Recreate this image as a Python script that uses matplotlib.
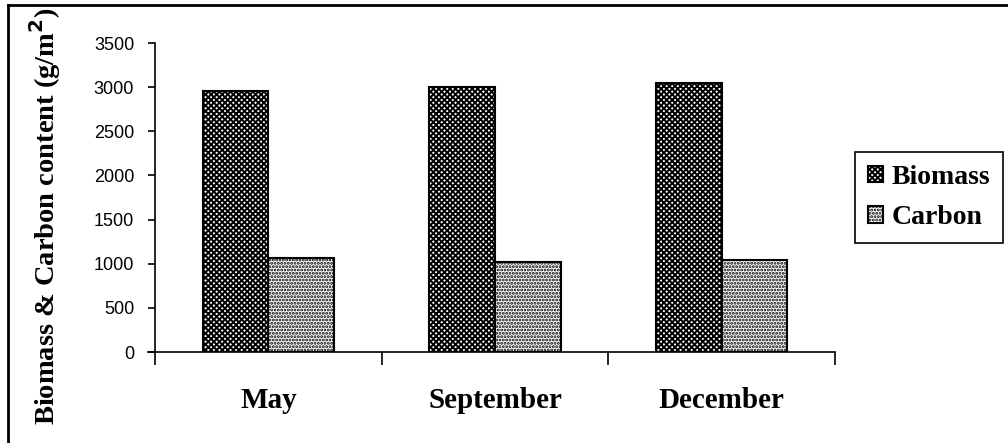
import numpy as np
import matplotlib.pyplot as plt
from matplotlib.lines import Line2D

months = ['May', 'September', 'December']
biomass = [2960, 3000, 3050]
carbon = [1065, 1020, 1040]
yticks = [0, 500, 1000, 1500, 2000, 2500, 3000, 3500]

plt.rcParams['hatch.linewidth'] = 1.4
serif = ['Liberation Serif', 'DejaVu Serif']
sans = ['Liberation Sans', 'DejaVu Sans']

fig = plt.figure(figsize=(10.08, 4.43), dpi=100)
ax = fig.add_axes([0.1538, 0.2054, 0.6746, 0.6975])

x = np.arange(len(months))
w = 0.29
ax.bar(x - w / 2, biomass, w, facecolor='white', edgecolor='black',
       hatch='xxxxxx', linewidth=1.5, label='Biomass')
ax.bar(x + w / 2, carbon, w, facecolor='white', edgecolor='black',
       hatch='.....', linewidth=1.5, label='Carbon')

ax.set_xlim(-0.5, 2.5)
ax.set_ylim(0, 3500)
ax.set_yticks(yticks)
ax.set_yticklabels([str(t) for t in yticks], family=sans, fontsize=13)

# category labels centred between boundary ticks
ax.set_xticks([-0.5, 0.5, 1.5, 2.5])
ax.set_xticklabels([])
ax.set_xticks(x, minor=True)
ax.set_xticklabels(months, minor=True, family=serif, fontweight='bold',
                   fontsize=21)
ax.tick_params(axis='x', which='major', direction='out', length=9, width=1.2)
ax.tick_params(axis='x', which='minor', length=0, pad=25)
ax.tick_params(axis='y', direction='out', length=5, width=1.2, pad=10)

for s in ['top', 'right']:
    ax.spines[s].set_visible(False)
for s in ['left', 'bottom']:
    ax.spines[s].set_linewidth(1.2)
# x axis line runs a little left of the y axis
ax.spines['bottom'].set_bounds(-0.5 - 7 / 227, 2.5)

ax.set_ylabel('Biomass & Carbon content (g/m$^\\mathbf{2}$)', family=serif,
              fontweight='bold', fontsize=20.5)
ax.yaxis.set_label_coords(-0.135, 0.44)

leg = ax.legend(loc='center left', bbox_to_anchor=(1.03, 0.5),
                prop={'family': serif, 'weight': 'bold', 'size': 20},
                fancybox=False, edgecolor='black', framealpha=1,
                handlelength=0.55, handleheight=0.55, handletextpad=0.3,
                borderpad=0.45, borderaxespad=0, labelspacing=0.55)
leg.get_frame().set_linewidth(1.2)

# outer frame of the figure (left and top edges)
fig.add_artist(Line2D([8 / 1008, 8 / 1008], [0, 1 - 5 / 443],
                      transform=fig.transFigure, color='black', lw=2))
fig.add_artist(Line2D([8 / 1008, 1], [1 - 5 / 443, 1 - 5 / 443],
                      transform=fig.transFigure, color='black', lw=2))

fig.savefig('out.png', dpi=100)
